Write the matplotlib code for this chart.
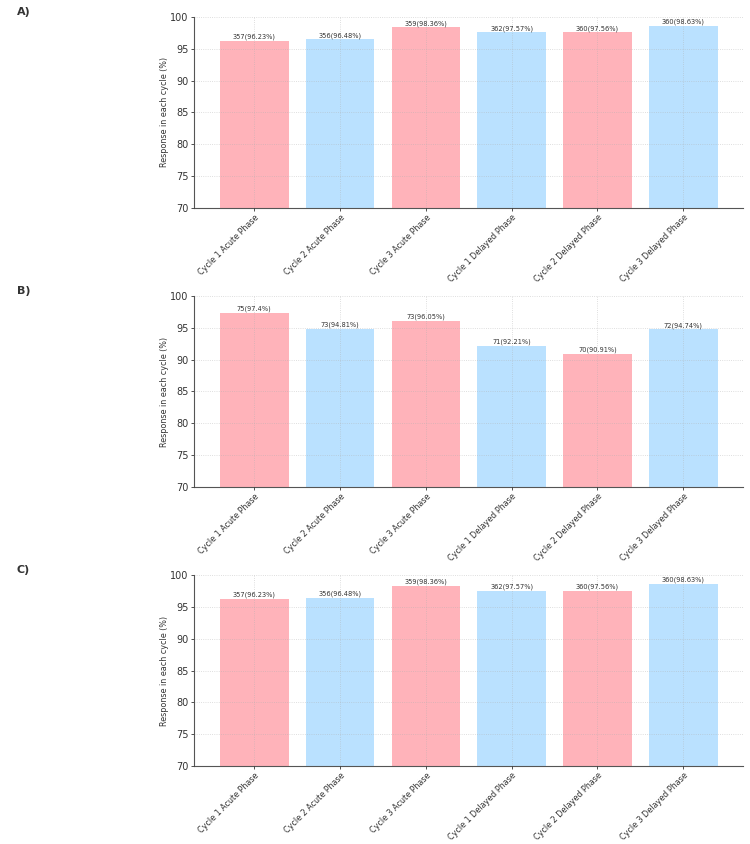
import numpy as np
import matplotlib.pyplot as plt

categories = ['Cycle 1 Acute Phase', 'Cycle 2 Acute Phase', 'Cycle 3 Acute Phase',
              'Cycle 1 Delayed Phase', 'Cycle 2 Delayed Phase', 'Cycle 3 Delayed Phase']

a_counts = [357, 356, 359, 362, 360, 360]
a_pcts = [96.23, 96.48, 98.36, 97.57, 97.56, 98.63]

b_counts = [75, 73, 73, 71, 70, 72]
b_pcts = [97.4, 94.81, 96.05, 92.21, 90.91, 94.74]

c_counts = [357, 356, 359, 362, 360, 360]
c_pcts = [96.23, 96.48, 98.36, 97.57, 97.56, 98.63]

panels = [('A)', a_counts, a_pcts), ('B)', b_counts, b_pcts), ('C)', c_counts, c_pcts)]
colors = ['#FFB3BA', '#BAE1FF'] * 3

fig, axes = plt.subplots(3, 1, figsize=(7.5, 8.44), dpi=100)
fig.subplots_adjust(left=0.259, right=0.991, top=0.980, bottom=0.0924, hspace=0.462)

x = np.arange(len(categories))
for ax, (tag, counts, pcts) in zip(axes, panels):
    bars = ax.bar(x, pcts, width=0.8, color=colors, zorder=1)
    for rect, n, p in zip(bars, counts, pcts):
        ax.text(rect.get_x() + rect.get_width() / 2, p + 0.12, '%d(%s%%)' % (n, ('%g' % p)),
                ha='center', va='bottom', fontsize=4.8, color='#333333', zorder=3)
    ax.set_ylim(70, 100)
    ax.set_xlim(-0.7, 5.7)
    ax.set_yticks([70, 75, 80, 85, 90, 95, 100])
    ax.set_xticks(x)
    ax.set_xticklabels(categories, rotation=45, ha='right', rotation_mode='anchor', fontsize=5.8)
    ax.tick_params(axis='y', labelsize=7, colors='#333333', length=2, width=0.6, pad=2)
    ax.tick_params(axis='x', colors='#333333', length=2, width=0.6, pad=1.5)
    ax.set_ylabel('Response in each cycle (%)', fontsize=5.8, color='#333333', labelpad=1)
    ax.grid(True, linestyle=':', linewidth=0.6, color='#b0b0b0', alpha=0.55, zorder=2)
    ax.set_axisbelow(False)
    for s in ['top', 'right']:
        ax.spines[s].set_visible(False)
    for s in ['left', 'bottom']:
        ax.spines[s].set_color('#555555')
        ax.spines[s].set_linewidth(0.8)
    pos = ax.get_position()
    fig.text(0.022, pos.y1 + 0.006, tag, fontsize=8, fontweight='bold', color='#333333',
             va='center', ha='left')

fig.savefig('out.png', dpi=100)
